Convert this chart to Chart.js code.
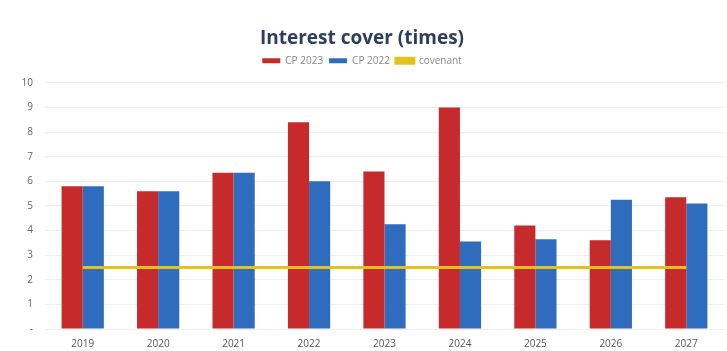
<!DOCTYPE html>
<html>
<head>
<meta charset="utf-8">
<script src="https://cdn.jsdelivr.net/npm/chart.js@4/dist/chart.umd.min.js"></script>
<style>
  html, body { margin: 0; padding: 0; background: #fff; }
  #wrap { width: 727px; height: 351px; position: relative; }
</style>
</head>
<body>
<div id="wrap"><canvas id="cover"></canvas></div>
<script>
const years = ["2019", "2020", "2021", "2022", "2023", "2024", "2025", "2026", "2027"];
const cp2023 = [5.8, 5.6, 6.35, 8.4, 6.4, 9.0, 4.2, 3.6, 5.35];
const cp2022 = [5.8, 5.6, 6.35, 6.0, 4.25, 3.55, 3.65, 5.25, 5.1];
const covenant = [2.5, 2.5, 2.5, 2.5, 2.5, 2.5, 2.5, 2.5, 2.5];
const yTicks = [0, 1, 2, 3, 4, 5, 6, 7, 8, 9, 10];

const FONT = "'Open Sans', 'Liberation Sans', sans-serif";

// a bit more room between the legend and the plot
const legendGap = {
  id: "legendGap",
  beforeInit(chart) {
    const fit = chart.legend.fit;
    chart.legend.fit = function () {
      fit.bind(chart.legend)();
      this.height += 7;
    };
  },
};

new Chart(document.getElementById("cover"), {
  type: "bar",
  data: {
    labels: years,
    datasets: [
      { label: "CP 2023", data: cp2023, backgroundColor: "#c62a2b", borderWidth: 0, order: 1 },
      { label: "CP 2022", data: cp2022, backgroundColor: "#2f6cbe", borderWidth: 0, order: 1 },
      { type: "line", label: "covenant", data: covenant, borderColor: "#e3c21c", backgroundColor: "#e3c21c",
        borderWidth: 3, pointRadius: 0, order: 0 },
    ],
  },
  plugins: [legendGap],
  options: {
    responsive: true,
    maintainAspectRatio: false,
    animation: false,
    layout: { padding: { top: 27, right: 3, left: 0, bottom: 0 } },
    datasets: { bar: { categoryPercentage: 0.56, barPercentage: 1.0 } },
    plugins: {
      title: {
        display: true,
        text: "Interest cover (times)",
        color: "#2d3e5c",
        font: { family: FONT, size: 19, weight: "bold" },
        padding: { top: 0, bottom: 0 },
      },
      legend: {
        labels: {
          boxWidth: 18, boxHeight: 5, color: "#888",
          font: { family: FONT, size: 10 },
          padding: 6,
          sort: (a, b) => a.datasetIndex - b.datasetIndex,
        },
      },
      tooltip: { enabled: false },
    },
    scales: {
      x: {
        grid: { display: false },
        border: { display: false },
        ticks: { color: "#555", font: { family: FONT, size: 10 }, padding: 1 },
      },
      y: {
        min: 0, max: 10,
        afterBuildTicks: (s) => { s.ticks = yTicks.map(v => ({ value: v })); },
        afterFit: (s) => { s.width = 45; },
        grid: { color: "#efefef", drawTicks: false },
        border: { display: false },
        ticks: {
          color: "#666", font: { family: FONT, size: 10 }, padding: 12,
          callback: (v) => (v === 0 ? "-" : v),
        },
      },
    },
  },
});
</script>
</body>
</html>
